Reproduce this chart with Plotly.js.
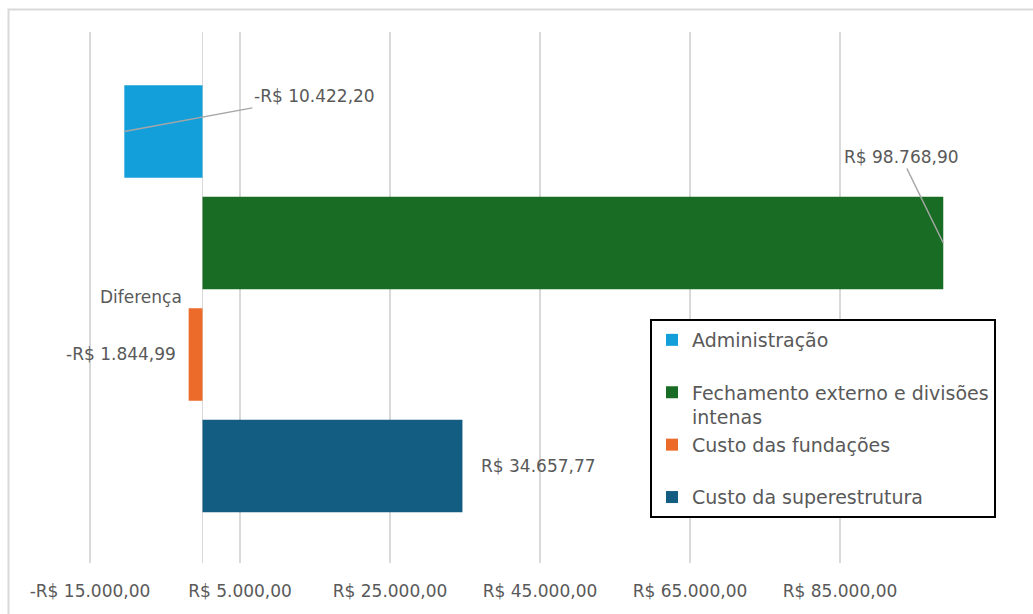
<!DOCTYPE html>
<html>
<head>
<meta charset="utf-8">
<script src="https://cdn.plot.ly/plotly-3.0.1.min.js"></script>
<style>html,body{margin:0;padding:0;background:#fff;}#chart{width:1033px;height:614px;}</style>
</head>
<body>
<div id="chart"></div>
<script>
// ---- data ----
const categories = ["Administração", "Fechamento externo e divisões intenas", "Custo das fundações", "Custo da superestrutura"];
const legendNames = ["Administração<br> ", "Fechamento externo e divisões<br>intenas", "Custo das fundações<br> ", "Custo da superestrutura"];
const values = [-10422.20, 98768.90, -1844.99, 34657.77];
const valueLabels = ["-R$ 10.422,20", "R$ 98.768,90", "-R$ 1.844,99", "R$ 34.657,77"];
const colors = ["#139fda", "#186c23", "#ec6a2a", "#135d83"];
const tickValues = [-15000, 5000, 25000, 45000, 65000, 85000];
const tickLabels = ["-R$ 15.000,00", "R$ 5.000,00", "R$ 25.000,00", "R$ 45.000,00", "R$ 65.000,00", "R$ 85.000,00"];
const extraLabel = "Diferença";

const FONT = "DejaVu Sans";
const GRAY = "#595959";

const traces = categories.map((c, i) => ({
  type: "bar",
  orientation: "h",
  y: [c],
  x: [values[i]],
  name: legendNames[i],
  width: 0.83,
  marker: {color: colors[i], line: {width: 0}},
  hoverinfo: "skip"
}));

// label placements (offsets in px relative to bar end / centre)
const annotations = [
  {x: values[0], y: categories[0], text: valueLabels[0], showarrow: true, arrowhead: 0, arrowwidth: 1.5, arrowcolor: "#a6a6a6", ax: 190, ay: -35, standoff: 0},
  {x: values[1], y: categories[1], text: valueLabels[1], showarrow: true, arrowhead: 0, arrowwidth: 1.5, arrowcolor: "#a6a6a6", ax: -42, ay: -86, standoff: 0},
  {x: values[2], y: categories[2], text: valueLabels[2], showarrow: false, xanchor: "right", xshift: -11},
  {x: values[2], y: categories[2], text: extraLabel, showarrow: false, xanchor: "right", xshift: -5, yshift: 57},
  {x: values[3], y: categories[3], text: valueLabels[3], showarrow: false, xanchor: "left", xshift: 17}
].map(a => Object.assign({font: {family: FONT, size: 17, color: GRAY}, xref: "x", yref: "y"}, a));

const L = 20, R = 23, T = 32, B = 51;
const W = 1033, H = 614;
const pw = W - L - R, ph = H - T - B;
const px2x = p => (p - L) / pw;
const px2y = p => (H - B - p) / ph;

const layout = {
  width: W, height: H,
  margin: {l: L, r: R, t: T, b: B, pad: 0},
  paper_bgcolor: "#ffffff",
  plot_bgcolor: "#ffffff",
  barmode: "overlay",
  showlegend: true,
  font: {family: FONT, color: GRAY},
  xaxis: {
    range: [-24333, 107667],
    tickvals: tickValues,
    ticktext: tickLabels,
    showgrid: true,
    gridcolor: "#d9d9d9",
    gridwidth: 1.5,
    zeroline: true,
    zerolinecolor: "#d9d9d9",
    zerolinewidth: 1.5,
    showline: false,
    ticks: "",
    ticklabelstandoff: 16,
    tickfont: {family: FONT, size: 17, color: GRAY},
    fixedrange: true
  },
  yaxis: {
    type: "category",
    categoryorder: "array",
    categoryarray: categories,
    range: [3.87, -0.892],
    showticklabels: false,
    showgrid: false,
    zeroline: false,
    showline: false,
    ticks: "",
    fixedrange: true
  },
  legend: {
    x: px2x(650), y: px2y(319),
    xanchor: "left", yanchor: "top",
    bgcolor: "#ffffff",
    bordercolor: "#000000",
    borderwidth: 2,
    valign: "top",
    font: {family: FONT, size: 19, color: GRAY},
    itemclick: false, itemdoubleclick: false
  },
  annotations: annotations,
  shapes: [{
    type: "rect", xref: "paper", yref: "paper",
    x0: px2x(8.5), x1: px2x(1045), y0: px2y(625), y1: px2y(9.5),
    line: {color: "#d9d9d9", width: 2}, fillcolor: "rgba(0,0,0,0)", layer: "below"
  }]
};

Plotly.newPlot("chart", traces, layout, {displayModeBar: false, staticPlot: true});
</script>
</body>
</html>
